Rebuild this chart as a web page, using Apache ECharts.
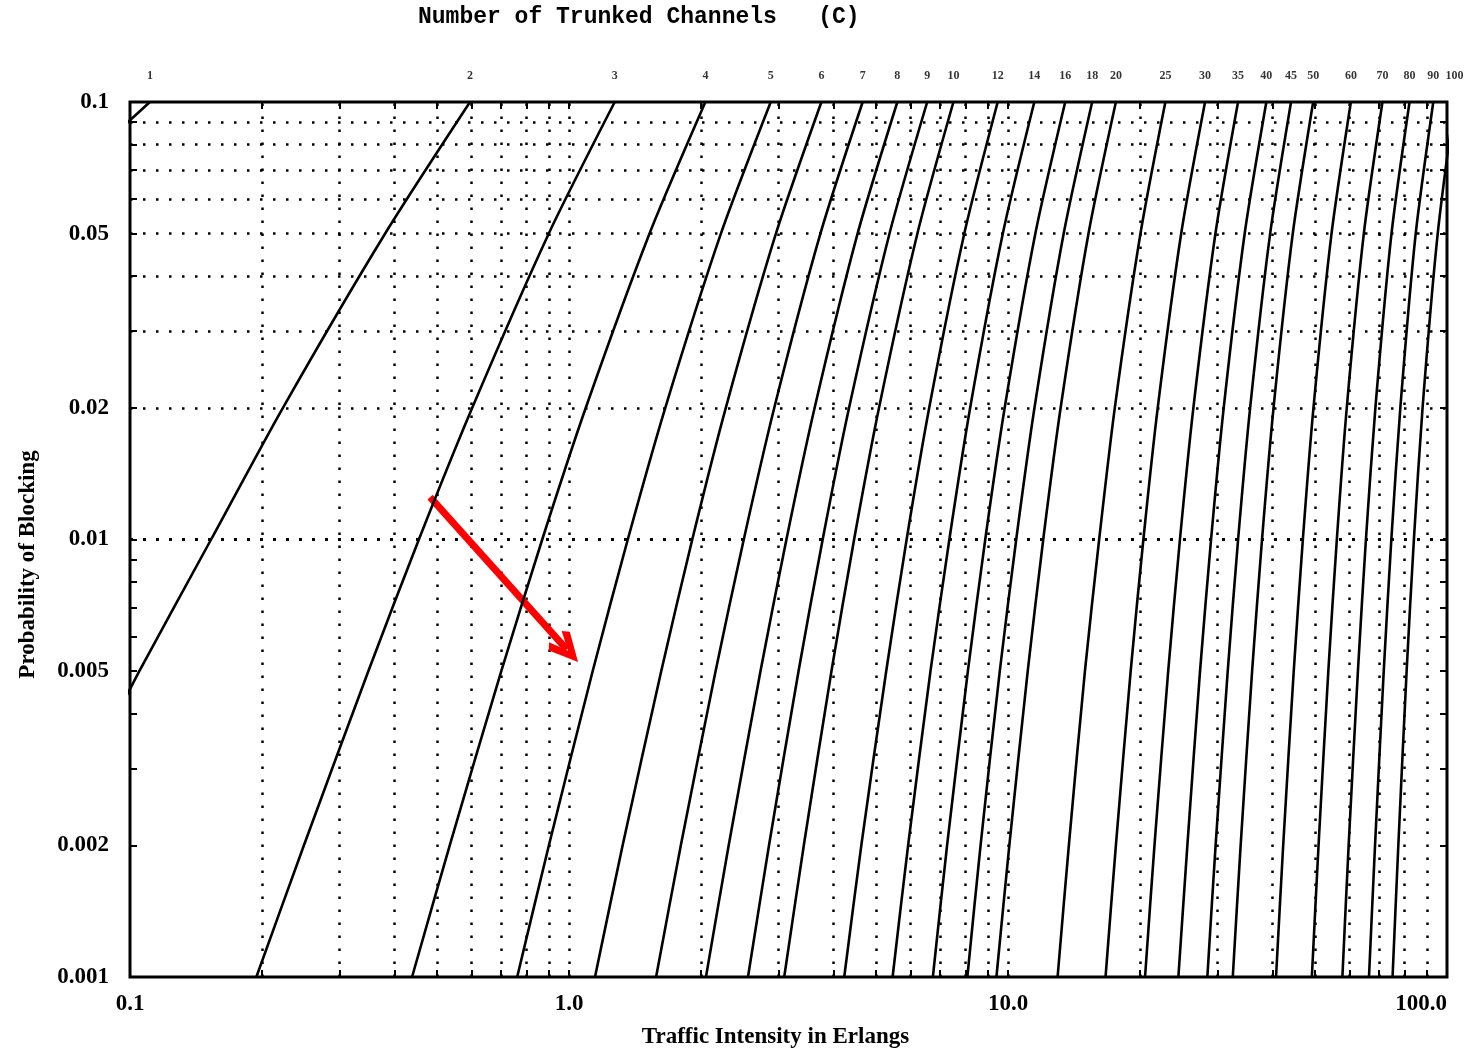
<!DOCTYPE html>
<html>
<head>
<meta charset="utf-8">
<script src="https://cdn.jsdelivr.net/npm/echarts@6/dist/echarts.min.js"></script>
<style>
html,body{margin:0;padding:0;background:#fff;}
#chart{width:1474px;height:1051px;}
</style>
</head>
<body>
<div id="chart"></div>
<script>
// Number of trunked channels (one curve each)
const channels = [1,2,3,4,5,6,7,8,9,10,12,14,16,18,20,25,30,35,40,45,50,60,70,80,90,100];
// Probability of blocking levels at which traffic is read
const blocking = [0.001,0.002,0.005,0.01,0.02,0.05,0.1];
// Traffic intensity (Erlangs) per curve, at each blocking level above
const traffic = [
  [0.001,0.002,0.00503,0.0101,0.0204,0.0526,0.111],
  [0.0458,0.0653,0.105,0.153,0.223,0.381,0.595],
  [0.194,0.249,0.349,0.455,0.602,0.899,1.271],
  [0.439,0.535,0.701,0.869,1.092,1.525,2.045],
  [0.762,0.900,1.132,1.361,1.657,2.218,2.881],
  [1.146,1.325,1.622,1.909,2.276,2.960,3.758],
  [1.579,1.798,2.157,2.501,2.935,3.738,4.666],
  [2.051,2.311,2.730,3.128,3.627,4.543,5.597],
  [2.557,2.855,3.333,3.783,4.345,5.370,6.546],
  [3.092,3.427,3.961,4.461,5.084,6.216,7.511],
  [4.236,4.633,5.279,5.876,6.615,7.950,9.474],
  [5.459,5.922,6.659,7.352,8.200,9.730,11.48],
  [6.743,7.265,8.102,8.875,9.828,11.54,13.50],
  [8.080,8.660,9.578,10.44,11.49,13.39,15.55],
  [9.411,10.07,11.09,12.03,13.18,15.25,17.61],
  [12.97,13.76,14.97,16.13,17.51,20.03,22.83],
  [16.68,17.61,19.03,20.34,21.93,24.80,28.11],
  [20.52,21.56,23.17,24.64,26.44,29.68,33.42],
  [24.44,25.62,27.38,29.01,31.00,34.60,38.77],
  [28.45,29.71,31.66,33.43,35.61,39.55,44.13],
  [32.51,33.88,35.98,37.90,40.26,44.53,49.56],
  [40.79,42.35,44.76,46.95,49.64,54.57,60.40],
  [49.22,50.98,53.66,56.11,59.11,64.64,71.28],
  [57.77,59.70,62.67,65.36,68.69,74.74,82.16],
  [66.42,68.56,71.76,74.68,78.29,84.87,93.06],
  [75.16,77.47,80.91,84.06,87.97,95.24,103.99]
];
// Tick labels
const xTickLabels = [0.1,1,10,100];
const yTickLabels = [0.001,0.002,0.005,0.01,0.02,0.05,0.1];
// Dotted grid line values
const xGridValues = [0.2,0.3,0.4,0.5,0.6,0.7,0.8,0.9,1,2,3,4,5,6,7,8,9,10,20,30,40,50,60,70,80,90];
const yGridValues = [0.002,0.003,0.004,0.005,0.006,0.007,0.008,0.009,0.01,0.02,0.03,0.04,0.05,0.06,0.07,0.08,0.09];
// Red arrow annotation (traffic, blocking)
const arrowFrom = [0.4826,0.0125];
const arrowTo = [0.988,0.00561];

const serifFont = '"Liberation Serif","DejaVu Serif",serif';
const chart = echarts.init(document.getElementById('chart'), null, {renderer:'canvas'});

const curveSeries = channels.map((c, i) => ({
  type:'line',
  name:'C=' + c,
  data: traffic[i].map((a, j) => [a, blocking[j]]),
  showSymbol:false,
  symbol:'none',
  smooth:0.25,
  clip:true,
  silent:true,
  z:5,
  lineStyle:{color:'#000', width:2.6, join:'round'}
}));

const topIdx = blocking.length - 1;
const option = {
  animation:false,
  backgroundColor:'#fff',
  title:{
    text:'Number of Trunked Channels   (C)',
    left:418, top:6, padding:0,
    textStyle:{fontFamily:'"Liberation Mono","DejaVu Sans Mono",monospace', fontWeight:'bold', fontSize:23, color:'#000'}
  },
  grid:{left:130, right:27, top:102, bottom:74, show:true, borderColor:'#000', borderWidth:3,
        backgroundColor:'transparent', containLabel:false, outerBoundsMode:'none'},
  xAxis:[{
    type:'log', logBase:10, min:0.1, max:100, position:'bottom',
    axisLine:{show:false},
    axisTick:{show:true, inside:true, length:7, customValues:xGridValues, lineStyle:{color:'#000', width:2}},
    splitLine:{show:false},
    minorTick:{show:false},
    axisLabel:{
      customValues:xTickLabels,
      formatter:(v)=>Number(v).toFixed(1),
      fontFamily:serifFont, fontWeight:'bold', fontSize:23, color:'#000', margin:16,
      alignMaxLabel:'right'
    },
    name:'Traffic Intensity in Erlangs',
    nameLocation:'middle', nameGap:49,
    nameTextStyle:{fontFamily:serifFont, fontWeight:'bold', fontSize:23, color:'#000', padding:[0,26,0,0]}
  },{
    type:'log', logBase:10, min:0.1, max:100, position:'top',
    axisLine:{show:false},
    axisTick:{show:true, inside:true, length:7, customValues:xGridValues, lineStyle:{color:'#000', width:2}},
    axisLabel:{show:false}, splitLine:{show:false}
  }],
  yAxis:[{
    type:'log', logBase:10, min:0.001, max:0.1, position:'left',
    axisLine:{show:false},
    axisTick:{show:true, inside:true, length:7, customValues:yGridValues, lineStyle:{color:'#000', width:2}},
    splitLine:{show:false},
    axisLabel:{
      customValues:yTickLabels,
      formatter:(v)=>String(Number(Number(v).toPrecision(3))),
      fontFamily:serifFont, fontWeight:'bold', fontSize:23, color:'#000', margin:21
    },
    name:'Probability of Blocking',
    nameLocation:'middle', nameGap:90,
    nameTextStyle:{fontFamily:serifFont, fontWeight:'bold', fontSize:23, color:'#000', padding:[0,50,0,0]}
  },{
    type:'log', logBase:10, min:0.001, max:0.1, position:'right',
    axisLine:{show:false},
    axisTick:{show:true, inside:true, length:7, customValues:yGridValues, lineStyle:{color:'#000', width:2}},
    axisLabel:{show:false}, splitLine:{show:false}
  }],
  series:[
    {
      type:'line', data:[], silent:true, z:1,
      markLine:{
        silent:true, animation:false, symbol:['none','none'],
        label:{show:false},
        lineStyle:{color:'#000', width:2.5, type:[2.5,10.5], opacity:1},
        emphasis:{disabled:true},
        data: xGridValues.map(v=>({xAxis:v})).concat(yGridValues.map(v=>({yAxis:v})))
      }
    },
    ...curveSeries,
    {
      type:'scatter', silent:true, clip:false, z:6,
      symbolSize:1, itemStyle:{color:'rgba(0,0,0,0)'},
      data: channels.map((c, i) => [traffic[i][topIdx], blocking[topIdx], c]),
      label:{
        show:true, position:'top', distance:20,
        formatter:(p)=>String(p.value[2]),
        fontFamily:serifFont, fontWeight:'bold', fontSize:12, color:'#000'
      }
    },
    {
      type:'line', data:[], silent:true, z:10,
      markLine:{
        silent:true, animation:false,
        symbol:['none','path://M14,0 L28,28 L22.5,34 L14,15 L5.5,34 L0,28 Z'],
        symbolSize:[28,34],
        label:{show:false},
        emphasis:{disabled:true},
        lineStyle:{color:'#ff0000', width:7, type:'solid', opacity:1, cap:'butt'},
        itemStyle:{color:'#ff0000'},
        data:[[{coord:arrowFrom},{coord:arrowTo}]]
      }
    }
  ]
};
chart.setOption(option);
</script>
</body>
</html>
